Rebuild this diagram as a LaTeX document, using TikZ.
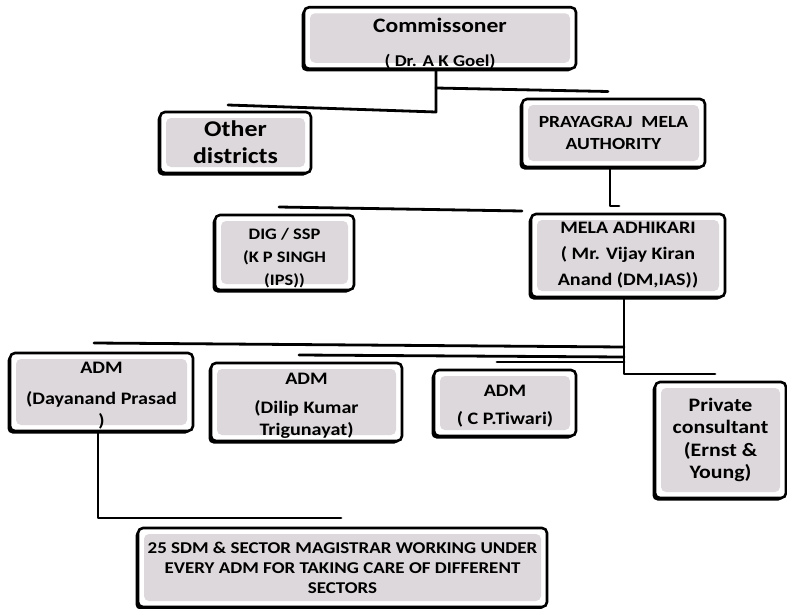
\documentclass[tikz,border=0pt]{standalone}
\usepackage{fontspec}
\setmainfont{Carlito}[FakeStretch=1.15]
\usetikzlibrary{shadows}
\definecolor{boxgray}{RGB}{221,216,219}
\newcommand{\upstrut}[1]{\rule{0pt}{#1}}
\tikzset{
  box/.style={draw=black, line width=2.6pt, rounded corners=5pt, fill=white,
    inner sep=0pt, align=center,
    drop shadow={shadow xshift=-2.5pt, shadow yshift=-2.5pt, opacity=1, fill=black},
    path picture={\fill[boxgray] ([shift={(6pt,6pt)}]path picture bounding box.south west)
      rectangle ([shift={(-6pt,-6pt)}]path picture bounding box.north east);}},
  fs/.style 2 args={font=\bfseries\fontsize{#1}{#2}\selectfont},
  wire/.style={line width=2.8pt, line cap=round, line join=round}
}
\begin{document}
\begin{tikzpicture}[x=1pt,y=-1pt]
\useasboundingbox[fill=white] (0,0) rectangle (787,608);
% nodes
\node[box, fs={16.5}{19}, minimum width=272pt, minimum height=60pt] (comm) at (440,38)
  {\upstrut{25pt}{\fontsize{20.5}{24}\selectfont Commissoner}\\[15pt]( Dr. A K Goel)};
\node[box, fs={22.5}{27}, minimum width=151pt, minimum height=61pt] (other) at (235.5,142.5)
  {Other\\ districts};
\node[box, fs={17}{22}, minimum width=183pt, minimum height=68pt] (pma) at (613.5,133)
  {PRAYAGRAJ\ \ MELA\\ AUTHORITY};
\node[box, fs={16}{23}, minimum width=139pt, minimum height=75pt] (dig) at (284.5,252.5)
  {\upstrut{22pt}DIG / SSP\\ (K P SINGH\\ (IPS))};
\node[box, fs={17.5}{26}, minimum width=194pt, minimum height=83pt] (mela) at (628,255.5)
  {MELA ADHIKARI\\ ( Mr. Vijay Kiran\\ Anand (DM,IAS))};
\node[box, fs={17.5}{22}, minimum width=183pt, minimum height=78pt] (adm1) at (101.5,392)
  {\upstrut{19pt}ADM\\[9pt] (Dayanand Prasad\\ )};
\node[box, fs={17.5}{22}, minimum width=191pt, minimum height=78pt] (adm2) at (306.5,402)
  {\upstrut{19pt}ADM\\[7pt] (Dilip Kumar\\ Trigunayat)};
\node[box, fs={17.5}{22}, minimum width=142pt, minimum height=66pt] (adm3) at (505,403)
  {\upstrut{18pt}ADM\\[6pt] ( C P.Tiwari)};
\node[box, fs={19}{22.5}, minimum width=131pt, minimum height=116pt] (pc) at (720.5,440)
  {Private\\ consultant\\ (Ernst \&\\ Young)};
\node[box, fs={16.5}{20}, minimum width=409pt, minimum height=79pt] (sdm) at (342.5,567.5)
  {25 SDM \& SECTOR MAGISTRAR WORKING UNDER\\ EVERY ADM FOR TAKING CARE OF DIFFERENT\\ SECTORS};
% connector points
\coordinate (j1) at (436,112);
\coordinate (l1) at (228,105);
\coordinate (j2) at (436,88);
\coordinate (r1) at (608,91.5);
\coordinate (p1) at (610,206);
\coordinate (p2) at (619,206);
\coordinate (d1) at (279,207);
\coordinate (d2) at (522,211);
\coordinate (m1) at (624,374);
\coordinate (m2) at (715,374);
\coordinate (h1) at (94,343);
\coordinate (h1e) at (624,347);
\coordinate (h2) at (299,355);
\coordinate (h2e) at (624,357);
\coordinate (h3) at (497,362);
\coordinate (h3e) at (624,362);
\coordinate (a1) at (98,518);
\coordinate (a2) at (341,518);
% connectors
\draw[wire] (comm.south -| j1) -- (j1) -- (l1);
\draw[wire] (j2) -- (r1);
\draw[wire] (pma.south -| p1) -- (p1) -- (p2);
\draw[wire] (d1) -- (d2);
\draw[wire] (mela.south -| m1) -- (m1) -- (m2);
\draw[wire] (h1) -- (h1e);
\draw[wire] (h2) -- (h2e);
\draw[wire] (h3) -- (h3e);
\draw[wire] (adm1.south -| a1) -- (a1) -- (a2);
\end{tikzpicture}
\end{document}
